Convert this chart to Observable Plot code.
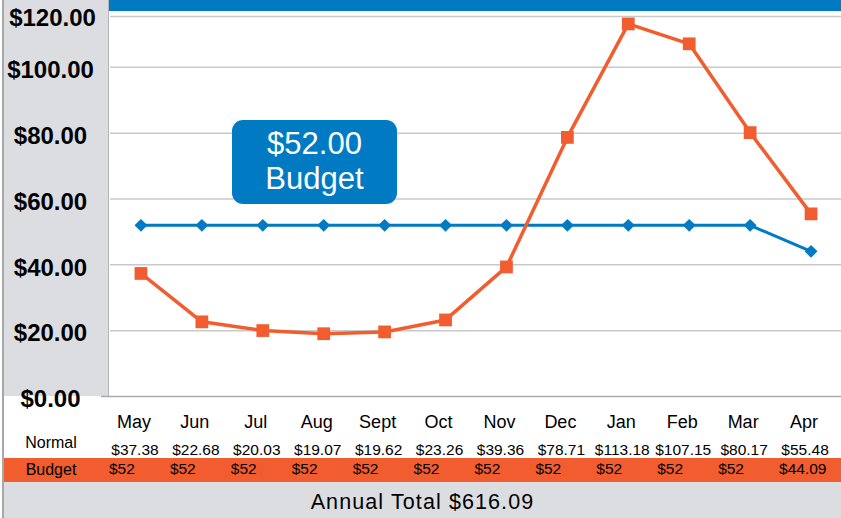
<!DOCTYPE html>
<html>
<head>
<meta charset="utf-8">
<script src="https://cdn.jsdelivr.net/npm/d3@7"></script>
<script src="https://cdn.jsdelivr.net/npm/@observablehq/plot@0.6"></script>
<style>
  html, body { margin: 0; padding: 0; background: #fff; }
  body { font-family: "Liberation Sans", Arial, sans-serif; }
  #wrap { position: relative; width: 841px; height: 518px; overflow: hidden; }
  .abs { position: absolute; }
  #chart svg { display: block; }
  .call { position: absolute; left: 232px; width: 165px; height: 35px; font-size: 31px; line-height: 35px; text-align: center; color: #fff; white-space: nowrap; }
</style>
</head>
<body>
<div id="wrap">
  <div class="abs" style="left:2px;top:0;width:2px;height:518px;background:#a5a7aa;"></div>
  <div class="abs" style="left:4px;top:0;width:104px;height:396px;background:#dcdde0;border-right:1.5px solid #b3b5b8;"></div>
  <div class="abs" style="left:4px;top:458px;width:837px;height:24px;background:#f15d2e;"></div>
  <div class="abs" style="left:4px;top:482px;width:837px;height:36px;background:#dcdde0;"></div>
  <div id="chart" class="abs" style="left:0;top:0;"></div>
  <div class="abs" style="left:109px;top:0;width:732px;height:11px;background:#007bc3;"></div>
  <div class="abs" style="left:232px;top:120px;width:165px;height:84px;border-radius:11px;background:#007bc3;"></div>
  <div id="callAmount" class="call" style="top:126px;"></div>
  <div id="callName" class="call" style="top:161px;"></div>
  <div id="lblNormal" class="abs" style="left:0;width:102px;top:434.5px;font-size:16px;line-height:16px;text-align:center;color:#000;"></div>
  <div id="lblBudget" class="abs" style="left:0;width:102px;top:461.5px;font-size:16px;line-height:16px;text-align:center;color:#000;"></div>
  <div id="total" class="abs" style="left:4px;width:837px;top:491.5px;font-size:21.5px;line-height:21px;text-align:center;color:#000;letter-spacing:1.1px;"></div>
</div>
<script>
// ---- data ----
const months = ["May", "Jun", "Jul", "Aug", "Sept", "Oct", "Nov", "Dec", "Jan", "Feb", "Mar", "Apr"];
const normal = [37.38, 22.68, 20.03, 19.07, 19.62, 23.26, 39.36, 78.71, 113.18, 107.15, 80.17, 55.48];
const budget = [52, 52, 52, 52, 52, 52, 52, 52, 52, 52, 52, 44.09];
const yTicks = [0, 20, 40, 60, 80, 100, 120];
const seriesNames = ["Normal", "Budget"];
const budgetAmount = 52;
const annualTotal = 616.09;

const orange = "#f15d2e";
const blue = "#007bc3";

const rows = months.map((m, i) => ({month: m, normal: normal[i], budget: budget[i]}));
const money2 = v => "$" + v.toFixed(2);
const moneyShort = v => Number.isInteger(v) ? "$" + v : "$" + v.toFixed(2);

const chart = Plot.plot({
  width: 841,
  height: 518,
  marginLeft: 110,
  marginRight: 0,
  marginTop: 1,
  marginBottom: 122,
  style: {background: "transparent", fontFamily: "'Liberation Sans', Arial, sans-serif", color: "#000"},
  x: {type: "point", domain: months, axis: null, padding: 0.5, round: false},
  y: {domain: [0, 120], axis: null},
  marks: [
    Plot.gridY(yTicks.filter(d => d > 0 && d < 120), {stroke: "#c8c9cb", strokeOpacity: 1, strokeWidth: 1.5}),
    Plot.gridY(yTicks.filter(d => d === 120), {stroke: "#c8c9cb", strokeOpacity: 1, strokeWidth: 1.5, dy: 15}),
    Plot.ruleY([0], {stroke: "#a9abae", strokeWidth: 1.5, insetLeft: -9}),
    Plot.text(yTicks.filter(d => d < 120), {y: d => d, text: money2, frameAnchor: "left", dx: -60, textAnchor: "middle", dy: 3, fontSize: 24, fontWeight: "bold", fill: "#000"}),
    Plot.text(yTicks.filter(d => d === 120), {y: d => d, text: money2, frameAnchor: "left", dx: -58, textAnchor: "middle", dy: 17, fontSize: 24, fontWeight: "bold", fill: "#000"}),
    Plot.line(rows, {x: "month", y: "budget", stroke: blue, strokeWidth: 3}),
    Plot.dot(rows, {x: "month", y: "budget", symbol: "diamond2", r: 5.8, fill: blue, stroke: "none"}),
    Plot.line(rows, {x: "month", y: "normal", stroke: orange, strokeWidth: 3.5}),
    Plot.dot(rows, {x: "month", y: "normal", symbol: "square", r: 7.2, fill: orange, stroke: "none"}),
    Plot.text(rows, {x: "month", text: "month", frameAnchor: "bottom", lineAnchor: "bottom", dy: 31, dx: -7, fontSize: 18, fill: "#000"}),
    Plot.text(rows, {x: "month", text: d => money2(d.normal), frameAnchor: "bottom", lineAnchor: "bottom", dy: 58, dx: -6, fontSize: 15.5, fill: "#000"}),
    Plot.text(rows, {x: "month", text: d => moneyShort(d.budget), frameAnchor: "bottom", lineAnchor: "bottom", dy: 77, dx: -32, textAnchor: "start", fontSize: 15.5, fill: "#000"})
  ]
});
document.getElementById("chart").appendChild(chart);

document.getElementById("callAmount").textContent = money2(budgetAmount);
document.getElementById("callName").textContent = seriesNames[1];
document.getElementById("lblNormal").textContent = seriesNames[0];
document.getElementById("lblBudget").textContent = seriesNames[1];
document.getElementById("total").textContent = "Annual Total " + money2(annualTotal);
</script>
</body>
</html>
